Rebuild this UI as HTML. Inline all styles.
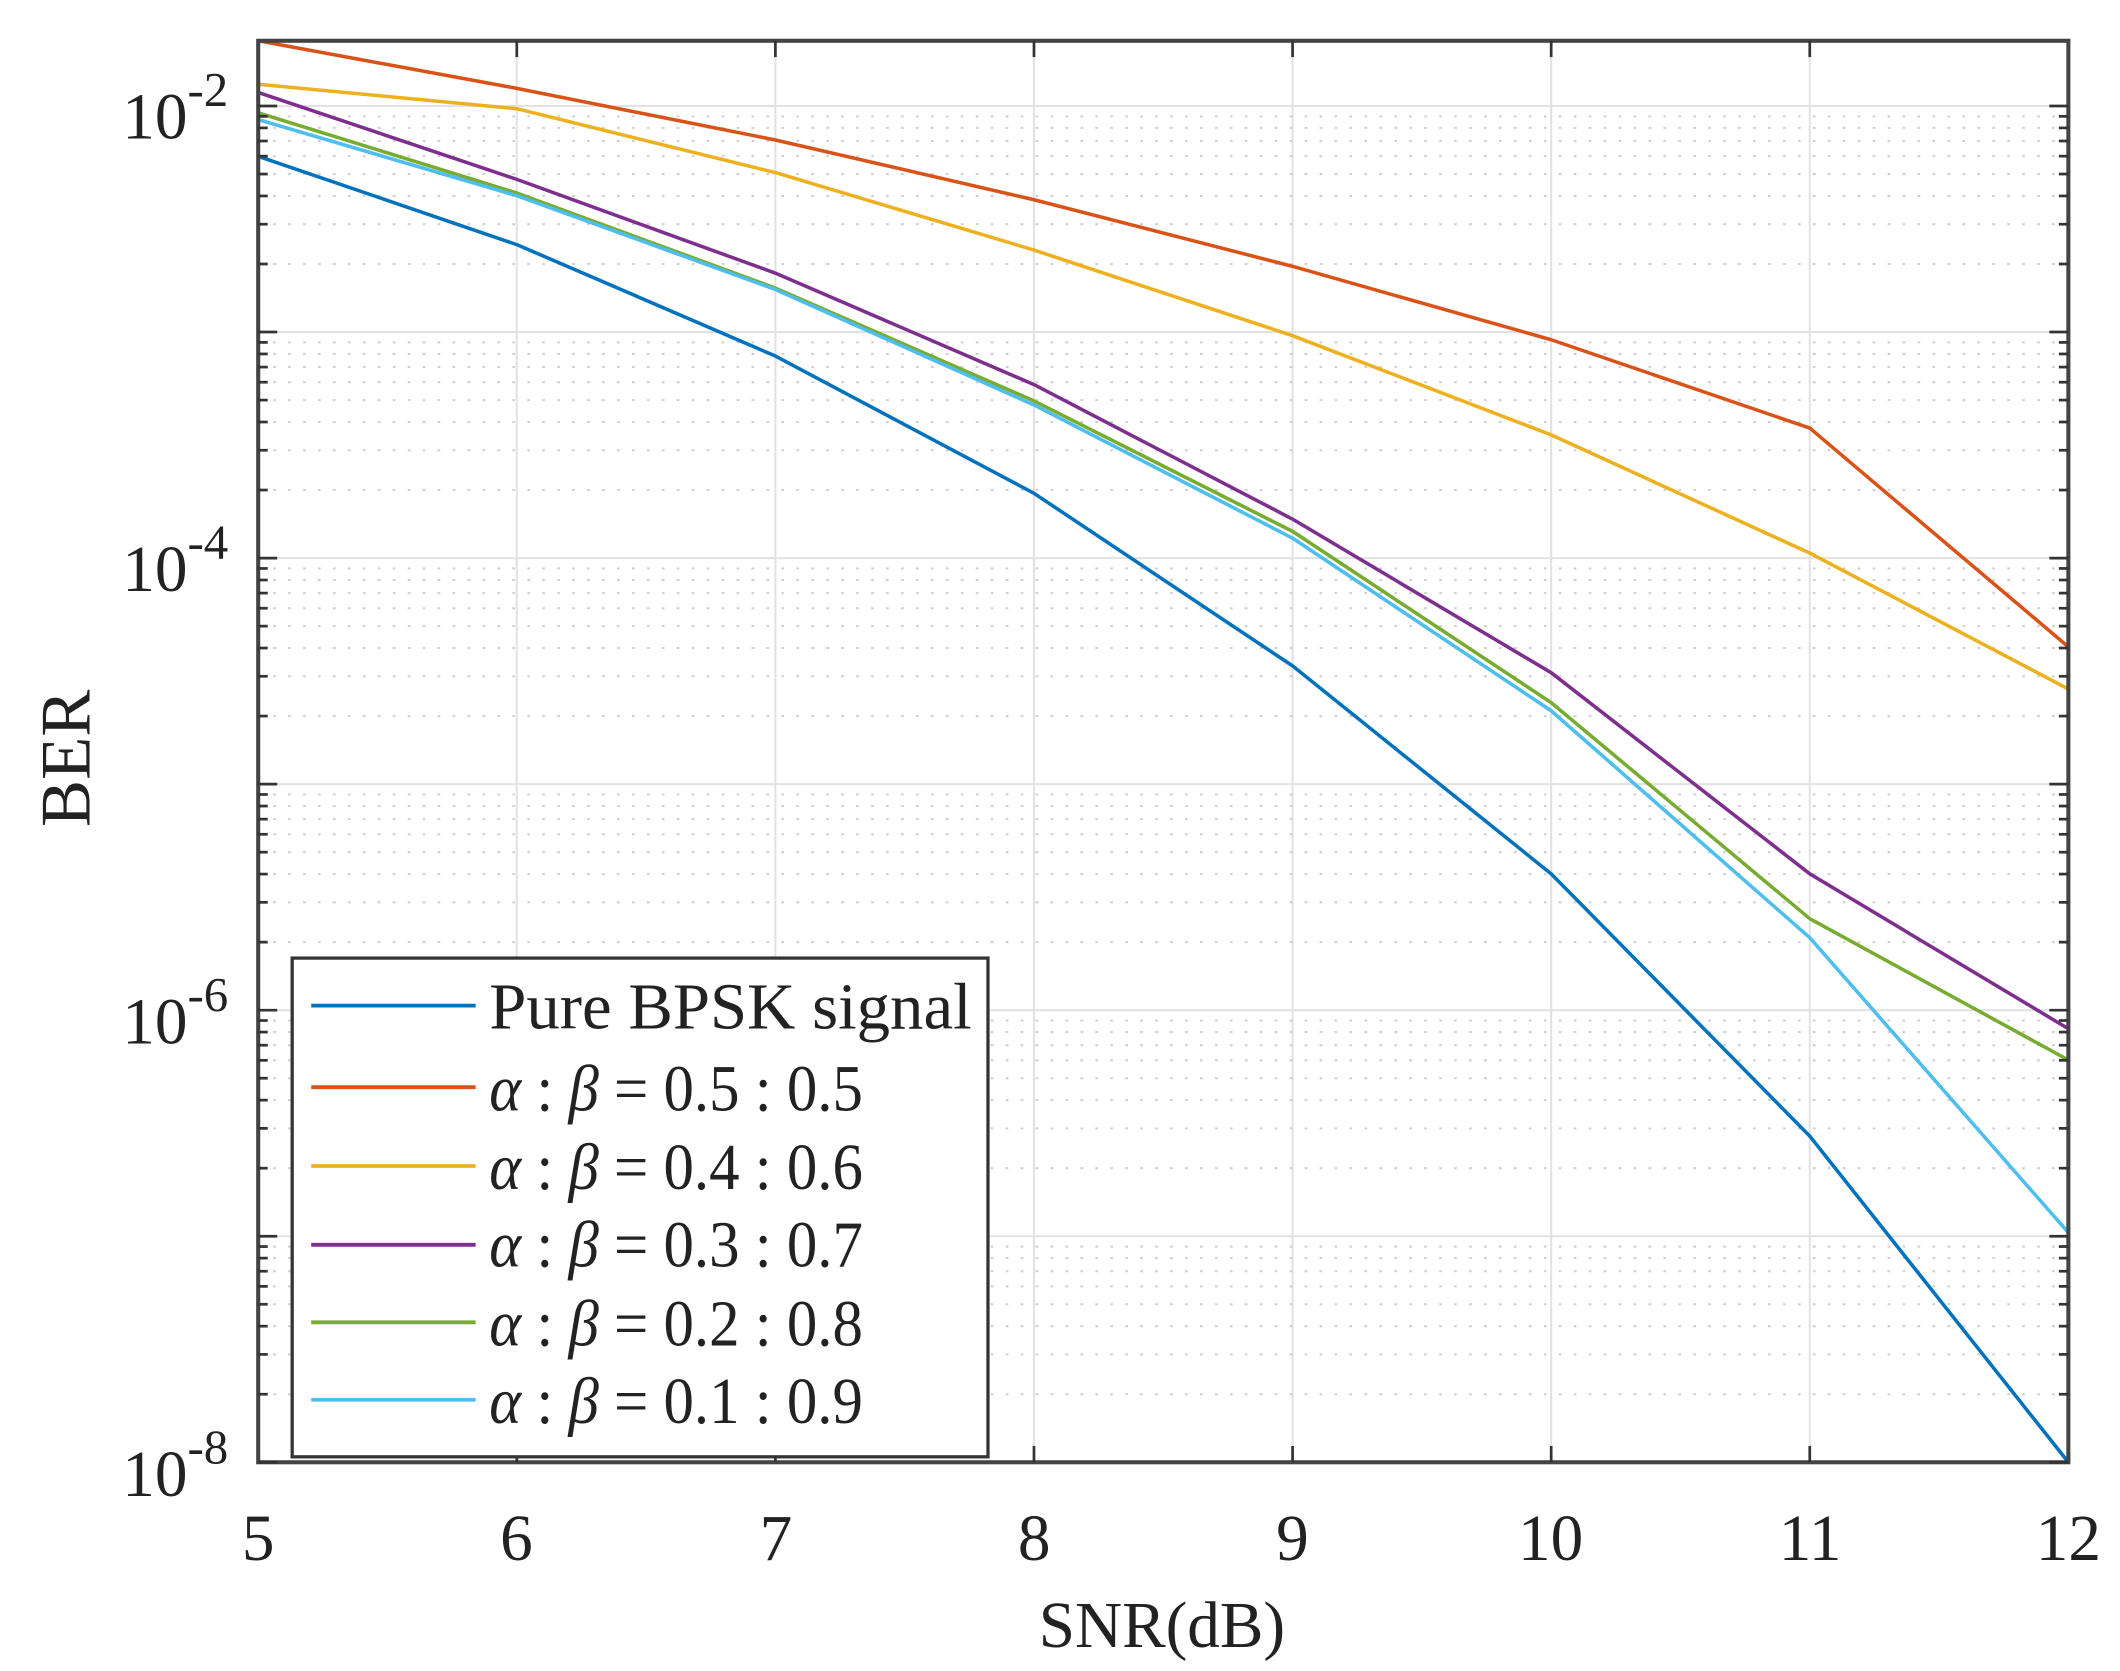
<!DOCTYPE html>
<html><head><meta charset="utf-8"><style>
html,body{margin:0;padding:0;background:#fff;}
svg{display:block;}
text{font-family:"Liberation Serif",serif;fill:#222;}
</style></head><body>
<svg id="s" width="2120" height="1671" viewBox="0 0 1560 1229.6" preserveAspectRatio="none" xmlns="http://www.w3.org/2000/svg">
<rect width="1560" height="1230" fill="#fff"/>
<g id="grid"></g>
<g id="series" fill="none" stroke-width="2.6" stroke-linejoin="round"></g>
<rect x="190" y="30" width="1332" height="1046" fill="none" stroke="#444" stroke-width="3"/>
<g id="ticks" stroke="#333" stroke-width="2"></g>
<g font-size="48">
<text x="90" y="102">10<tspan dy="-24" font-size="36">-2</tspan></text>
<text x="90" y="435">10<tspan dy="-24" font-size="36">-4</tspan></text>
<text x="90" y="768">10<tspan dy="-24" font-size="36">-6</tspan></text>
<text x="90" y="1101">10<tspan dy="-24" font-size="36">-8</tspan></text>
</g>
<g font-size="48" text-anchor="middle">
<text x="190" y="1148">5</text><text x="380" y="1148">6</text><text x="571" y="1148">7</text>
<text x="761" y="1148">8</text><text x="951" y="1148">9</text><text x="1141" y="1148">10</text>
<text x="1332" y="1148">11</text><text x="1522" y="1148">12</text>
<text x="855" y="1212">SNR(dB)</text>
</g>
<text font-size="52" text-anchor="middle" transform="translate(66,558) rotate(-90)">BER</text>
<rect x="215" y="705" width="512" height="367" fill="#fff" stroke="#333" stroke-width="2.4"/>
<g stroke-width="2.8">
<line x1="229" y1="740" x2="350" y2="740" stroke="#0072BD"/>
<line x1="229" y1="800" x2="350" y2="800" stroke="#D95319"/>
<line x1="229" y1="858" x2="350" y2="858" stroke="#EDB120"/>
<line x1="229" y1="916" x2="350" y2="916" stroke="#7E2F8E"/>
<line x1="229" y1="973" x2="350" y2="973" stroke="#77AC30"/>
<line x1="229" y1="1030" x2="350" y2="1030" stroke="#4DBEEE"/>
</g>
<g font-size="48">
<text x="360" y="757" textLength="355" lengthAdjust="spacingAndGlyphs">Pure BPSK signal</text>
<text x="360" y="817" textLength="275" lengthAdjust="spacingAndGlyphs"><tspan font-style="italic">α</tspan> : <tspan font-style="italic">β</tspan> = 0.5 : 0.5</text>
<text x="360" y="875" textLength="275" lengthAdjust="spacingAndGlyphs"><tspan font-style="italic">α</tspan> : <tspan font-style="italic">β</tspan> = 0.4 : 0.6</text>
<text x="360" y="932" textLength="275" lengthAdjust="spacingAndGlyphs"><tspan font-style="italic">α</tspan> : <tspan font-style="italic">β</tspan> = 0.3 : 0.7</text>
<text x="360" y="990" textLength="275" lengthAdjust="spacingAndGlyphs"><tspan font-style="italic">α</tspan> : <tspan font-style="italic">β</tspan> = 0.2 : 0.8</text>
<text x="360" y="1047" textLength="275" lengthAdjust="spacingAndGlyphs"><tspan font-style="italic">α</tspan> : <tspan font-style="italic">β</tspan> = 0.1 : 0.9</text>
</g>
</svg>
<script>
var NS="http://www.w3.org/2000/svg";
function el(p,t,a){var e=document.createElementNS(NS,t);for(var k in a)e.setAttribute(k,a[k]);p.appendChild(e);return e;}
var g=document.getElementById('grid'),tk=document.getElementById('ticks'),sr=document.getElementById('series');
var X0=190,X1=1522,Y0=30,Y1=1076,D=(1076-78)/6;
function xs(v){return X0+(v-5)*(X1-X0)/7;}
for(var i=6;i<12;i++){el(g,'line',{x1:xs(i),x2:xs(i),y1:Y0,y2:Y1,stroke:'#e2e2e2','stroke-width':1.5});
 el(tk,'line',{x1:xs(i),x2:xs(i),y1:Y1,y2:Y1-12});el(tk,'line',{x1:xs(i),x2:xs(i),y1:Y0,y2:Y0+12});}
for(var d=0;d<=6;d++){var y=78+d*D;
 el(g,'line',{x1:X0,x2:X1,y1:y,y2:y,stroke:'#e2e2e2','stroke-width':1.5});
 el(tk,'line',{x1:X0,x2:X0+14,y1:y,y2:y});el(tk,'line',{x1:X1,x2:X1-14,y1:y,y2:y});
 if(d>0){for(var k=2;k<=9;k++){var yy=78+(d-1)*D+D*(1-Math.log10(k));
  el(g,'line',{x1:X0,x2:X1,y1:yy,y2:yy,stroke:'#cfcfcf','stroke-width':1.5,'stroke-dasharray':'2 9'});
  el(tk,'line',{x1:X0,x2:X0+7,y1:yy,y2:yy});el(tk,'line',{x1:X1,x2:X1-7,y1:yy,y2:yy});}}}
var S=[['#D95319',[30,65,103,147,196,250,315,476]],['#EDB120',[62,80,127,184,247,320,407,507]],
['#7E2F8E',[68,132,201,283,382,495,643,757]],['#77AC30',[83,142,212,295,391,517,676,780]],
['#4DBEEE',[88,144,213,298,396,523,690,907]],['#0072BD',[115,180,262,363,490,643,836,1076]]];
S.forEach(function(s){var p=s[1].map(function(y,i){return xs(5+i)+','+y;}).join(' ');
 el(sr,'polyline',{points:p,stroke:s[0]});});
</script>
</body></html>
